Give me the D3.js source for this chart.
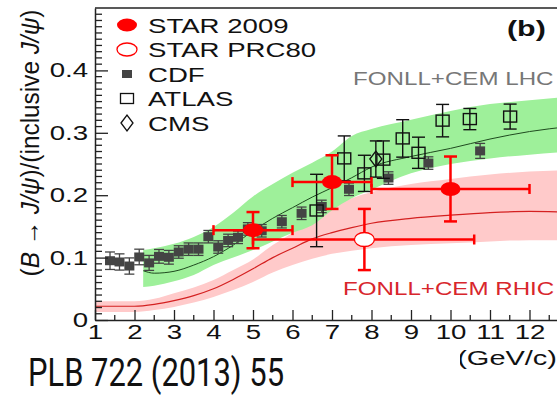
<!DOCTYPE html>
<html>
<head>
<meta charset="utf-8">
<script src="https://cdn.jsdelivr.net/npm/d3@7"></script>
<style>
body { margin: 0; background: #fff; }
svg { display: block; font-family: "Liberation Sans", Arial, sans-serif; }
</style>
</head>
<body>
<script>
// ---- data ----
var ptTicks = [1, 2, 3, 4, 5, 6, 7, 8, 9, 10, 11, 12];
var yTicks = [0, 0.1, 0.2, 0.3, 0.4];

var cdfPt  = [1.38, 1.62, 1.87, 2.12, 2.37, 2.62, 2.87, 3.12, 3.37, 3.62, 3.87, 4.12, 4.37, 4.62, 4.87, 5.22, 5.73, 6.23, 6.74, 7.43, 8.43, 9.44, 10.75];
var cdfVal = [0.095, 0.093, 0.0865, 0.101, 0.0915, 0.102, 0.1005, 0.109, 0.1135, 0.1135, 0.1335, 0.117, 0.1275, 0.1325, 0.146, 0.143, 0.1575, 0.171, 0.182, 0.2095, 0.2275, 0.2515, 0.271];
var cdfErr = [0.014, 0.013, 0.013, 0.0125, 0.012, 0.011, 0.011, 0.010, 0.010, 0.010, 0.010, 0.010, 0.010, 0.010, 0.010, 0.010, 0.010, 0.010, 0.010, 0.010, 0.010, 0.010, 0.012];

var atlasPt  = [6.61, 7.31, 7.82, 8.30, 8.79, 9.19, 9.80, 10.49, 11.51];
var atlasVal = [0.1755, 0.259, 0.235, 0.257, 0.291, 0.268, 0.3195, 0.322, 0.326];
var atlasErr = [0.058, 0.036, 0.029, 0.030, 0.030, 0.025, 0.026, 0.017, 0.020];

var cmsPt  = [8.11];
var cmsVal = [0.258];
var cmsErr = [0.029];

var starPt  = [5, 7, 10];
var starVal = [0.144, 0.221, 0.21];
var starXLo = [4, 6, 8];
var starXHi = [6, 8, 12];
var starErr = [0.029, 0.043, 0.052];

var prcPt  = [7.82];
var prcVal = [0.129];
var prcXLo = [5.0];
var prcXHi = [10.6];
var prcErr = [0.049];

// FONLL+CEM LHC band
var lhcPt  = [2.22, 2.5, 3, 3.5, 4, 4.5, 5, 5.5, 6, 6.5, 7, 7.5, 8, 9, 10, 11, 12, 13];
var lhcLo  = [0.053, 0.055, 0.062, 0.072, 0.088, 0.100, 0.112, 0.126, 0.140, 0.152, 0.176, 0.195, 0.209, 0.235, 0.250, 0.259, 0.265, 0.270];
var lhcMid = [0.079, 0.075, 0.078, 0.088, 0.1015, 0.120, 0.143, 0.163, 0.180, 0.197, 0.212, 0.228, 0.245, 0.262, 0.275, 0.290, 0.302, 0.310];
var lhcHi  = [0.112, 0.115, 0.122, 0.133, 0.149, 0.172, 0.198, 0.218, 0.236, 0.252, 0.270, 0.295, 0.306, 0.321, 0.335, 0.346, 0.352, 0.358];

// FONLL+CEM RHIC band
var rhicPt  = [1, 1.5, 2, 2.5, 3, 3.5, 4, 4.5, 5, 5.5, 6, 6.5, 7, 7.5, 8, 9, 10, 11, 12, 13];
var rhicLo  = [0.013, 0.013, 0.013, 0.016, 0.021, 0.028, 0.037, 0.048, 0.061, 0.076, 0.088, 0.098, 0.106, 0.111, 0.115, 0.120, 0.123, 0.126, 0.128, 0.128];
var rhicMid = [0.022, 0.022, 0.022, 0.025, 0.031, 0.039, 0.050, 0.065, 0.082, 0.100, 0.115, 0.130, 0.140, 0.148, 0.155, 0.163, 0.168, 0.172, 0.174, 0.173];
var rhicHi  = [0.030, 0.030, 0.030, 0.034, 0.043, 0.052, 0.064, 0.080, 0.097, 0.120, 0.140, 0.162, 0.180, 0.195, 0.205, 0.218, 0.226, 0.233, 0.238, 0.240];

var legendNames = ["STAR 2009", "STAR PRC80", "CDF", "ATLAS", "CMS"];

// ---- layout ----
var width = 557, height = 395;
var sx = 1.38; // the original picture is stretched sideways

var x = d3.scaleLinear().domain([1, 13]).range([95, 569]);
var y = d3.scaleLinear().domain([0, 0.5]).range([320, 8]);

var svg = d3.select("body").append("svg")
  .attr("width", width)
  .attr("height", height);

svg.append("clipPath").attr("id", "plot")
  .append("rect").attr("x", 95).attr("y", 8).attr("width", 470).attr("height", 312);

var plot = svg.append("g").attr("clip-path", "url(#plot)");

function zip(a, b, c) { return a.map(function (v, i) { return { pt: v, lo: b[i], hi: c[i] }; }); }

var area = d3.area().curve(d3.curveMonotoneX)
  .x(function (d) { return x(d.pt); })
  .y0(function (d) { return y(d.lo); })
  .y1(function (d) { return y(d.hi); });
var line = d3.line().curve(d3.curveMonotoneX)
  .x(function (d) { return x(d.pt); })
  .y(function (d) { return y(d.lo); });

// bands
plot.append("path").datum(zip(rhicPt, rhicLo, rhicHi)).attr("d", area).attr("fill", "#ffcaca");
plot.append("path").datum(zip(lhcPt, lhcLo, lhcHi)).attr("d", area).attr("fill", "#9ef09a");
plot.append("path").datum(zip(rhicPt, rhicMid, rhicMid)).attr("d", line)
  .attr("fill", "none").attr("stroke", "#d42020").attr("stroke-width", 1.2);
plot.append("path").datum(zip(lhcPt, lhcMid, lhcMid)).attr("d", line)
  .attr("fill", "none").attr("stroke", "#1f4a1f").attr("stroke-width", 1);

// vertical error bar with caps
function errY(g, px, v, e, cap, color, w) {
  g.append("line").attr("x1", px).attr("x2", px).attr("y1", y(v - e)).attr("y2", y(v + e))
    .attr("stroke", color).attr("stroke-width", w);
  [v - e, v + e].forEach(function (t) {
    g.append("line").attr("x1", px - cap / 2).attr("x2", px + cap / 2).attr("y1", y(t)).attr("y2", y(t))
      .attr("stroke", color).attr("stroke-width", w);
  });
}
function errX(g, lo, hi, v, cap, color, w) {
  var py = y(v);
  g.append("line").attr("x1", x(lo)).attr("x2", x(hi)).attr("y1", py).attr("y2", py)
    .attr("stroke", color).attr("stroke-width", w);
  [lo, hi].forEach(function (t) {
    g.append("line").attr("x1", x(t)).attr("x2", x(t)).attr("y1", py - cap / 2).attr("y2", py + cap / 2)
      .attr("stroke", color).attr("stroke-width", w);
  });
}

// CDF
cdfPt.forEach(function (p, i) { errY(plot, x(p), cdfVal[i], cdfErr[i], 10, "#444", 1.3); });
plot.selectAll("rect.cdf").data(cdfPt).join("rect").attr("class", "cdf")
  .attr("x", function (d) { return x(d) - 5; })
  .attr("y", function (d, i) { return y(cdfVal[i]) - 4.5; })
  .attr("width", 10).attr("height", 9).attr("fill", "#444");

// ATLAS
atlasPt.forEach(function (p, i) { errY(plot, x(p), atlasVal[i], atlasErr[i], 13, "#111", 1.4); });
plot.selectAll("rect.atlas").data(atlasPt).join("rect").attr("class", "atlas")
  .attr("x", function (d) { return x(d) - 6.5; })
  .attr("y", function (d, i) { return y(atlasVal[i]) - 5.5; })
  .attr("width", 13).attr("height", 11).attr("fill", "none").attr("stroke", "#111").attr("stroke-width", 1.4);

// CMS
cmsPt.forEach(function (p, i) { errY(plot, x(p), cmsVal[i], cmsErr[i], 12, "#111", 1.4); });
plot.selectAll("path.cms").data(cmsPt).join("path").attr("class", "cms")
  .attr("d", function (d, i) {
    var cx = x(d), cy = y(cmsVal[i]);
    return "M" + (cx - 6) + "," + cy + "L" + cx + "," + (cy - 8) + "L" + (cx + 6) + "," + cy + "L" + cx + "," + (cy + 8) + "Z";
  })
  .attr("fill", "none").attr("stroke", "#111").attr("stroke-width", 1.3);

// STAR PRC80
prcPt.forEach(function (p, i) {
  errY(plot, x(p), prcVal[i], prcErr[i], 13, "#f00", 2.5);
  errX(plot, prcXLo[i], prcXHi[i], prcVal[i], 10, "#f00", 2.5);
});
plot.selectAll("ellipse.prc").data(prcPt).join("ellipse").attr("class", "prc")
  .attr("cx", function (d) { return x(d); })
  .attr("cy", function (d, i) { return y(prcVal[i]); })
  .attr("rx", 10).attr("ry", 7).attr("fill", "#fff").attr("stroke", "#f00").attr("stroke-width", 1.3);

// STAR 2009
starPt.forEach(function (p, i) {
  errY(plot, x(p), starVal[i], starErr[i], 13, "#f00", 2.5);
  errX(plot, starXLo[i], starXHi[i], starVal[i], 10, "#f00", 2.5);
});
plot.selectAll("ellipse.star").data(starPt).join("ellipse").attr("class", "star")
  .attr("cx", function (d) { return x(d); })
  .attr("cy", function (d, i) { return y(starVal[i]); })
  .attr("rx", 10).attr("ry", 7).attr("fill", "#f00");

// ---- axes ----
var xAxis = svg.append("g").attr("transform", "translate(0,320)")
  .call(d3.axisBottom(x).tickValues(ptTicks).tickSize(-10).tickPadding(5).tickSizeOuter(0));
xAxis.selectAll(".tick line").attr("stroke", "#222").attr("stroke-width", 1.3);
xAxis.selectAll(".tick text").attr("font-size", 20).attr("fill", "#111")
  .attr("font-family", "Liberation Sans, Arial, sans-serif")
  .attr("transform", "scale(" + sx + ",1)");
xAxis.select(".domain").attr("stroke", "#222").attr("stroke-width", 1.5);
xAxis.selectAll("line.minor").data(d3.range(1.5, 13, 1)).join("line").attr("class", "minor")
  .attr("x1", function (d) { return x(d); }).attr("x2", function (d) { return x(d); })
  .attr("y1", 0).attr("y2", -5).attr("stroke", "#222").attr("stroke-width", 1.3);

var yAxis = svg.append("g").attr("transform", "translate(95,0)")
  .call(d3.axisLeft(y).tickValues(yTicks).tickSize(-13).tickPadding(5).tickSizeOuter(0)
    .tickFormat(function (d) { return d === 0 ? "0" : d.toFixed(1); }));
yAxis.selectAll(".tick line").attr("stroke", "#222").attr("stroke-width", 1.3);
yAxis.selectAll(".tick text").attr("font-size", 20).attr("fill", "#111")
  .attr("font-family", "Liberation Sans, Arial, sans-serif")
  .attr("transform", "scale(" + sx + ",1)");
yAxis.select(".domain").attr("stroke", "#222").attr("stroke-width", 1.5);
yAxis.selectAll("line.minor").data(d3.range(1, 50).filter(function (i) { return i % 10; }).map(function (i) { return i / 100; }))
  .join("line").attr("class", "minor")
  .attr("x1", 0).attr("x2", 7)
  .attr("y1", function (d) { return y(d); }).attr("y2", function (d) { return y(d); })
  .attr("stroke", "#222").attr("stroke-width", 1.3);

// top frame
svg.append("line").attr("x1", 95).attr("x2", width).attr("y1", y(0.5)).attr("y2", y(0.5))
  .attr("stroke", "#222").attr("stroke-width", 1.5);

// ---- texts ----
function stretched(str, px, py, size) {
  return svg.append("text")
    .attr("transform", "translate(" + px + "," + py + ") scale(" + sx + ",1)")
    .attr("font-size", size).attr("fill", "#111").text(str);
}

// legend
var legend = svg.append("g");
legendNames.forEach(function (name, i) {
  var cy = 25 + i * 24.5;
  stretched(name, 148, cy + 7.5, 20);
  if (i === 0) legend.append("ellipse").attr("cx", 127).attr("cy", cy).attr("rx", 10).attr("ry", 6.5).attr("fill", "#f00");
  if (i === 1) legend.append("ellipse").attr("cx", 127).attr("cy", cy).attr("rx", 10).attr("ry", 6.5)
    .attr("fill", "none").attr("stroke", "#f00").attr("stroke-width", 1.3);
  if (i === 2) legend.append("rect").attr("x", 122).attr("y", cy - 4).attr("width", 10).attr("height", 8).attr("fill", "#444");
  if (i === 3) legend.append("rect").attr("x", 120.5).attr("y", cy - 5).attr("width", 13).attr("height", 10)
    .attr("fill", "none").attr("stroke", "#111").attr("stroke-width", 1.3);
  if (i === 4) legend.append("path")
    .attr("d", "M121," + cy + "L127," + (cy - 8) + "L133," + cy + "L127," + (cy + 8) + "Z")
    .attr("fill", "none").attr("stroke", "#111").attr("stroke-width", 1.3);
});

stretched("(b)", 507, 36, 22).attr("font-weight", "bold");
stretched("FONLL+CEM LHC", 353, 85, 17.5).attr("fill", "#777");
stretched("FONLL+CEM RHIC", 343, 295, 17.5).attr("fill", "#d8262c");

// y title
var yt = svg.append("text")
  .attr("transform", "translate(39,143) scale(" + sx + ",1) rotate(-90)")
  .attr("text-anchor", "middle").attr("font-size", 19).attr("fill", "#111")
  .attr("textLength", 267).attr("lengthAdjust", "spacingAndGlyphs");
yt.append("tspan").text("(");
yt.append("tspan").attr("font-style", "italic").text("B");
yt.append("tspan").text(" \u2192 ");
yt.append("tspan").attr("font-style", "italic").text("J/\u03c8");
yt.append("tspan").text(")/(inclusive ");
yt.append("tspan").attr("font-style", "italic").text("J/\u03c8");
yt.append("tspan").text(")");

// x title, partly hidden behind the reference label
var xt = svg.append("text")
  .attr("transform", "translate(557,365) scale(" + sx + ",1)")
  .attr("text-anchor", "end").attr("font-size", 21).attr("fill", "#111");
xt.append("tspan").attr("font-style", "italic").text("p");
xt.append("tspan").attr("font-size", 14).attr("dy", 4).text("T");
xt.append("tspan").attr("dy", -4).text(" (GeV/c)");

svg.append("rect").attr("x", 0).attr("y", 344).attr("width", 460).attr("height", 51).attr("fill", "#fff");
svg.append("text").attr("x", 28).attr("y", 386)
  .attr("font-family", "Roboto, sans-serif").attr("font-size", 38).attr("fill", "#111")
  .attr("textLength", 256).attr("lengthAdjust", "spacingAndGlyphs")
  .text("PLB 722 (2013) 55");
</script>
</body>
</html>
